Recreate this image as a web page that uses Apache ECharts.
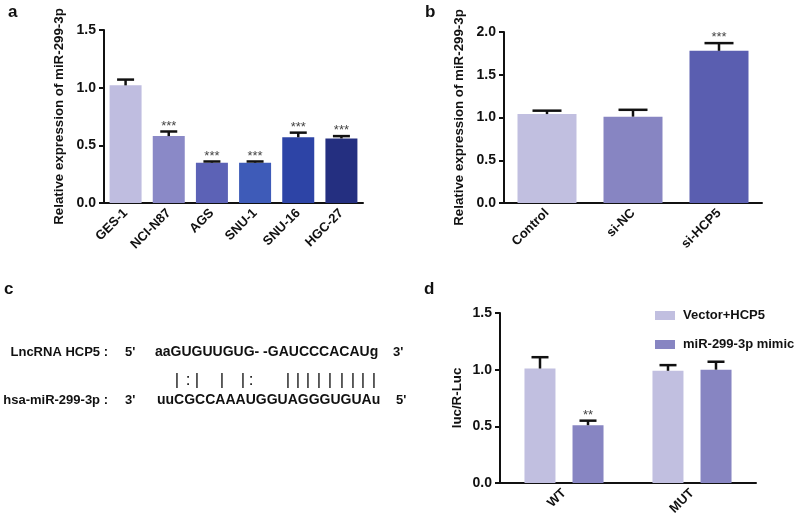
<!DOCTYPE html>
<html>
<head>
<meta charset="utf-8">
<script src="https://cdn.jsdelivr.net/npm/echarts@6/dist/echarts.min.js"></script>
<style>
  html, body { margin: 0; padding: 0; background: #fff; }
  #chart { width: 800px; height: 524px; }
</style>
</head>
<body>
<div id="chart"></div>
<script>
// panel a: miR-299-3p in cell lines
const cellLines = ['GES-1', 'NCI-N87', 'AGS', 'SNU-1', 'SNU-16', 'HGC-27'];
const cellExpr = [1.02, 0.58, 0.35, 0.35, 0.57, 0.56];
const cellErr = [0.05, 0.04, 0.01, 0.01, 0.04, 0.02];
const cellSig = ['', '***', '***', '***', '***', '***'];

// panel b: knockdown
const siGroups = ['Control', 'si-NC', 'si-HCP5'];
const siExpr = [1.04, 1.01, 1.78];
const siErr = [0.04, 0.08, 0.09];
const siSig = ['', '', '***'];

// panel d: luciferase
const lucGroups = ['WT', 'MUT'];
const lucNames = ['Vector+HCP5', 'miR-299-3p mimic'];
const lucVector = [1.01, 0.99];
const lucVectorErr = [0.10, 0.05];
const lucMimic = [0.51, 1.00];
const lucMimicErr = [0.04, 0.07];
const lucVectorSig = ['', ''];
const lucMimicSig = ['**', ''];

// y axis ticks
const ticksA = [0, 0.5, 1.0, 1.5];
const ticksB = [0, 0.5, 1.0, 1.5, 2.0];

// colours
const paletteA = ['#bfbde0', '#8a89c7', '#5c62b6', '#3e5bb8', '#2d44a6', '#242f80'];
const paletteB = ['#c1bfe0', '#8785c2', '#5a5eb0'];
const lucColors = ['#c1bfe0', '#8785c2'];

const FONT = 'Liberation Sans, Arial, sans-serif';
const black = '#111';

function catAxis(grid, cats) {
    return {
        type: 'category', gridIndex: grid, data: cats,
        axisLine: { lineStyle: { color: black, width: 2 } },
        axisTick: { alignWithLabel: true, length: 5, lineStyle: { color: black, width: 2 } },
        axisLabel: { rotate: 45, margin: 8, color: black, fontFamily: FONT, fontWeight: 'bold', fontSize: 13 }
    };
}

function valAxis(grid, ticks, name, gap) {
    return {
        type: 'value', gridIndex: grid,
        min: ticks[0], max: ticks[ticks.length - 1], interval: ticks[1] - ticks[0],
        name: name, nameLocation: 'middle', nameGap: gap,
        nameTextStyle: { color: black, fontFamily: FONT, fontWeight: 'bold', fontSize: 13.3 },
        splitLine: { show: false },
        axisLine: { show: true, lineStyle: { color: black, width: 2 } },
        axisTick: { show: true, length: 5, lineStyle: { color: black, width: 2 } },
        axisLabel: { margin: 8, color: black, fontFamily: FONT, fontWeight: 'bold', fontSize: 14,
            formatter: v => v.toFixed(1) }
    };
}

// error bar (upper whisker only) + significance stars
function errSeries(grid, vals, errs, sigs, capW, dx) {
    return {
        type: 'custom', xAxisIndex: grid, yAxisIndex: grid, z: 5,
        data: vals.map((v, i) => [i, v, errs[i]]),
        renderItem(params, api) {
            const i = api.value(0);
            const v = api.value(1);
            const e = api.value(2);
            const base = api.coord([i, v]);
            const top = api.coord([i, v + e]);
            const cx = base[0] + dx;
            const st = { stroke: black, lineWidth: 2.5 };
            const kids = [
                { type: 'line', shape: { x1: cx, y1: base[1], x2: cx, y2: top[1] }, style: st },
                { type: 'line', shape: { x1: cx - capW / 2, y1: top[1], x2: cx + capW / 2, y2: top[1] }, style: st }
            ];
            const s = sigs[params.dataIndex];
            if (s) {
                kids.push({ type: 'text', style: { text: s, x: cx, y: top[1] + 1, align: 'center', verticalAlign: 'bottom',
                    fill: '#444', font: '13px ' + FONT } });
            }
            return { type: 'group', children: kids };
        }
    };
}

const panelLabel = (t, x, y) => ({ type: 'text', left: x, top: y,
    style: { text: t, fill: black, font: 'bold 17px ' + FONT } });

function seqText(t, x, y, align, size) {
    return { type: 'text', x: x, y: y, style: { text: t, fill: black, font: 'bold ' + (size || 13) + 'px ' + FONT,
        align: align || 'left', verticalAlign: 'middle' } };
}
// pairing marks between the two sequences
const pairMarks = [
    ['|', 177], [':', 188], ['|', 197], ['|', 222], ['|', 243], [':', 251],
    ['|', 288], ['|', 298], ['|', 308], ['|', 319], ['|', 330], ['|', 342], ['|', 353], ['|', 363], ['|', 374]
];

const chart = echarts.init(document.getElementById('chart'));
chart.setOption({
    animation: false,
    grid: [
        { left: 104, top: 30, width: 259, height: 173 },
        { left: 504, top: 32, width: 258, height: 171 },
        { left: 500, top: 313, width: 256, height: 170 }
    ],
    legend: {
        data: lucNames, orient: 'vertical', left: 650, top: 304,
        itemWidth: 20, itemHeight: 9, itemGap: 16, icon: 'rect',
        textStyle: { color: black, fontFamily: FONT, fontWeight: 'bold', fontSize: 13, padding: [0, 0, 0, 3] }
    },
    xAxis: [catAxis(0, cellLines), catAxis(1, siGroups), catAxis(2, lucGroups)],
    yAxis: [
        valAxis(0, ticksA, 'Relative expression of miR-299-3p', 38),
        valAxis(1, ticksB, 'Relative expression of miR-299-3p', 38),
        valAxis(2, ticksA, 'luc/R-Luc', 36)
    ],
    series: [
        { type: 'bar', xAxisIndex: 0, yAxisIndex: 0, barWidth: 32,
          data: cellExpr.map((v, i) => ({ value: v, itemStyle: { color: paletteA[i] } })) },
        errSeries(0, cellExpr, cellErr, cellSig, 17, 0),
        { type: 'bar', xAxisIndex: 1, yAxisIndex: 1, barWidth: 59,
          data: siExpr.map((v, i) => ({ value: v, itemStyle: { color: paletteB[i] } })) },
        errSeries(1, siExpr, siErr, siSig, 29, 0),
        { type: 'bar', name: lucNames[0], xAxisIndex: 2, yAxisIndex: 2, barWidth: 31, barGap: '55%',
          itemStyle: { color: lucColors[0] }, data: lucVector },
        { type: 'bar', name: lucNames[1], xAxisIndex: 2, yAxisIndex: 2, barWidth: 31, barGap: '55%',
          itemStyle: { color: lucColors[1] }, data: lucMimic },
        errSeries(2, lucVector, lucVectorErr, lucVectorSig, 17, -24),
        errSeries(2, lucMimic, lucMimicErr, lucMimicSig, 17, 24)
    ],
    graphic: [
        panelLabel('a', 8, 4),
        panelLabel('b', 425, 4),
        panelLabel('c', 4, 281),
        panelLabel('d', 424, 281),
        seqText('LncRNA HCP5 :', 108, 352, 'right'),
        seqText("5'", 125, 352),
        seqText('aaGUGUUGUG- -GAUCCCACAUg', 155, 352, 'left', 14),
        seqText("3'", 393, 352),
        seqText('hsa-miR-299-3p :', 108, 400, 'right'),
        seqText("3'", 125, 400),
        seqText('uuCGCCAAAUGGUAGGGUGUAu', 157, 400, 'left', 14),
        seqText("5'", 396, 400)
    ].concat(pairMarks.map(p => ({ type: 'text', x: p[1], y: 380,
        style: { text: p[0], fill: black, font: '17px ' + FONT, align: 'center', verticalAlign: 'middle' } })))
});
</script>
</body>
</html>
